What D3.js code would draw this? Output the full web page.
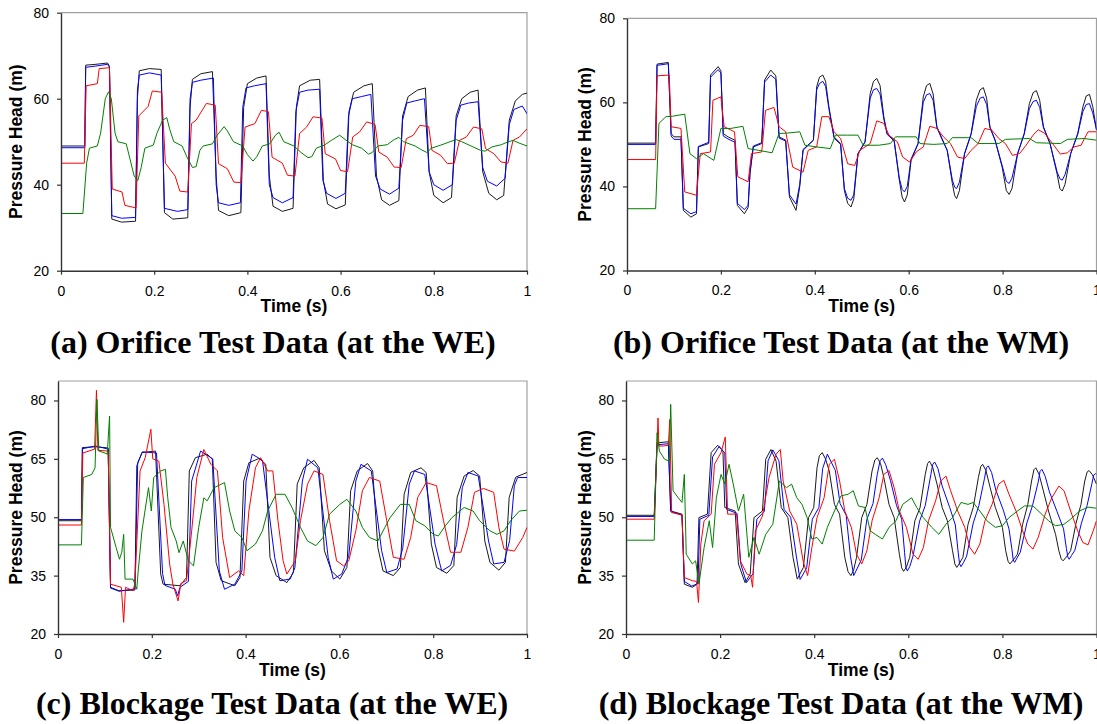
<!DOCTYPE html>
<html>
<head>
<meta charset="utf-8">
<script src="https://cdn.jsdelivr.net/npm/d3@7"></script>
<style>
  body { margin: 0; background: #fff; }
  svg { display: block; }
  .tick text { font-family: "Liberation Sans", Arial, sans-serif; font-size: 14px; fill: #000; }
  .axis-title { font-family: "Liberation Sans", Arial, sans-serif; font-size: 17.5px; font-weight: bold; fill: #000; }
  .panel-title { font-family: "Liberation Serif", "Times New Roman", serif; font-size: 32px; font-weight: bold; fill: #000; }
</style>
</head>
<body>
<svg id="fig" width="1097" height="724"></svg>
<script>
// tick labels
const timeTicks = [0, 0.2, 0.4, 0.6, 0.8, 1];
const headTicksOrifice = [20, 40, 60, 80];
const headTicksBlockage = [20, 35, 50, 65, 80];

// (a) orifice, at the WE  -- [time (s), head (m)]
const aBlack = [[0,49],[0.051,49],[0.053,67.8],[0.075,68],[0.1,68.3],[0.104,67.5],[0.109,32],[0.13,31.3],[0.16,31.5],[0.164,60],[0.168,66.5],[0.19,67],[0.215,66.8],[0.222,33.5],[0.24,32],[0.272,32.3],[0.277,58],[0.282,64.5],[0.3,65.8],[0.325,66.3],[0.333,42],[0.338,34],[0.36,32.8],[0.386,33.5],[0.392,58],[0.4,63.5],[0.42,64.8],[0.44,65.3],[0.447,42],[0.455,35],[0.475,33.8],[0.498,34.5],[0.505,58],[0.512,63],[0.535,64.3],[0.555,64.5],[0.563,41],[0.572,35.5],[0.59,34.4],[0.61,35.3],[0.618,57],[0.628,61.5],[0.65,63],[0.668,63.5],[0.677,42],[0.688,36.5],[0.705,35.2],[0.725,36.3],[0.733,56],[0.745,60.5],[0.765,62],[0.782,62.5],[0.79,43],[0.8,37.5],[0.82,35.8],[0.838,37],[0.848,56],[0.86,60],[0.878,61.5],[0.895,62],[0.905,43],[0.918,38],[0.935,36.5],[0.95,37.5],[0.962,55],[0.975,59.5],[0.99,61],[1,61.3]];
const aBlue = [[0,48.6],[0.051,48.6],[0.053,67.3],[0.075,67.6],[0.1,68],[0.104,67.3],[0.109,32.8],[0.13,32.2],[0.16,32.4],[0.164,62],[0.168,65.5],[0.19,66],[0.215,65.5],[0.222,34.5],[0.25,33.8],[0.272,34.2],[0.277,60],[0.282,63.8],[0.3,64.3],[0.327,64.8],[0.333,40],[0.338,35.8],[0.36,35.2],[0.385,35.8],[0.39,58],[0.397,62.5],[0.415,63],[0.44,63.5],[0.447,40],[0.455,37],[0.475,35.8],[0.498,37],[0.504,57],[0.512,61.5],[0.53,62],[0.555,62.2],[0.562,41],[0.57,38],[0.59,36.8],[0.61,38],[0.617,56],[0.625,60],[0.645,60.5],[0.665,61],[0.675,42],[0.685,39],[0.705,37.8],[0.725,39.2],[0.733,55],[0.742,59],[0.76,59.5],[0.78,60],[0.79,43],[0.8,40],[0.82,38.7],[0.84,40],[0.848,55],[0.858,58.5],[0.875,59],[0.895,59.3],[0.905,44],[0.915,40.8],[0.935,39.7],[0.953,41.5],[0.962,54],[0.972,57.5],[0.99,58.3],[1,56.5]];
const aRed = [[0,45],[0.05,45],[0.054,63],[0.078,63.5],[0.082,67],[0.104,67.2],[0.11,39],[0.131,38.3],[0.137,35.2],[0.161,34.6],[0.167,56],[0.187,58.2],[0.196,61.8],[0.216,61.5],[0.224,45],[0.245,42],[0.255,38.5],[0.272,38.3],[0.28,54.2],[0.29,55],[0.312,58.9],[0.331,58.5],[0.338,44.9],[0.357,43.7],[0.371,40.6],[0.386,40.5],[0.395,53.4],[0.416,54.2],[0.43,57.3],[0.445,57],[0.453,46.4],[0.475,45],[0.486,42.2],[0.502,42],[0.512,51.9],[0.527,53.4],[0.541,55.8],[0.56,55.5],[0.567,47.2],[0.589,46],[0.6,43.3],[0.615,43],[0.626,51.1],[0.641,52.3],[0.656,54.6],[0.674,54],[0.682,47.6],[0.7,46.4],[0.715,44.1],[0.73,44],[0.741,50.7],[0.756,51.5],[0.77,53.8],[0.789,53.5],[0.796,48],[0.815,46.8],[0.829,44.9],[0.844,45],[0.855,50.3],[0.87,51.1],[0.885,53.4],[0.903,53],[0.911,48.4],[0.929,47.2],[0.944,45.3],[0.959,45],[0.97,50.3],[0.984,51.1],[1,53]];
const aGreen = [[0,33.3],[0.047,33.3],[0.055,45],[0.061,48.5],[0.078,49],[0.085,52],[0.095,60],[0.102,61.6],[0.108,60],[0.116,52],[0.122,50],[0.14,49.5],[0.148,46],[0.157,42],[0.165,41],[0.172,44],[0.18,48.5],[0.198,49.2],[0.206,52],[0.218,55],[0.227,55.6],[0.233,53],[0.242,50],[0.26,49],[0.27,46.5],[0.282,44],[0.29,44.2],[0.298,48],[0.305,49],[0.325,49.5],[0.335,51.5],[0.35,53.5],[0.357,52.5],[0.37,50],[0.39,49],[0.4,47],[0.412,45.5],[0.42,46.5],[0.432,49],[0.448,49.5],[0.46,51.5],[0.468,52.2],[0.478,50],[0.5,49],[0.515,47.5],[0.53,46.3],[0.538,46.5],[0.548,48.5],[0.565,49.2],[0.58,50.3],[0.598,51.5],[0.61,50.5],[0.625,49.3],[0.645,48.5],[0.66,47.1],[0.668,47.5],[0.68,49],[0.7,49.3],[0.715,50.5],[0.725,51],[0.735,50],[0.76,49],[0.772,48.2],[0.785,47.5],[0.795,48.5],[0.815,49.2],[0.835,50],[0.848,50.5],[0.86,50],[0.88,49],[0.9,48],[0.91,47.8],[0.925,48.8],[0.945,49.3],[0.96,50],[0.97,50.3],[0.985,49.6],[1,49]];

// (b) orifice, at the WM
const bBlack = [[0,50.3],[0.061,50.3],[0.064,69.1],[0.088,69.5],[0.094,52.6],[0.1,51.8],[0.115,51.8],[0.12,34.3],[0.136,32.7],[0.148,33.5],[0.152,49.4],[0.174,50.2],[0.178,66.5],[0.194,68.5],[0.2,67.5],[0.205,52.6],[0.215,51.8],[0.23,51],[0.235,35.5],[0.25,33.5],[0.258,35],[0.262,43],[0.269,49.4],[0.287,50.2],[0.293,65.3],[0.306,67.7],[0.317,66.3],[0.324,51.8],[0.338,51],[0.346,37.5],[0.36,34.3],[0.368,40],[0.375,48.6],[0.397,51],[0.404,63.7],[0.41,66],[0.417,66.5],[0.423,65],[0.43,59],[0.441,51.8],[0.455,50.2],[0.463,39],[0.47,36],[0.477,35.1],[0.483,37],[0.492,47.8],[0.507,50.6],[0.518,62.1],[0.525,65],[0.532,65.7],[0.539,64],[0.547,56.6],[0.554,52.6],[0.569,51],[0.58,41.5],[0.586,37.5],[0.591,36.3],[0.597,38],[0.605,46.2],[0.62,50.2],[0.631,61.3],[0.638,64],[0.645,64.5],[0.652,62],[0.66,54.2],[0.671,51.4],[0.682,48.6],[0.693,40.7],[0.698,37.8],[0.702,37.1],[0.708,39],[0.719,47.8],[0.733,52.6],[0.744,60.5],[0.752,63],[0.759,63.5],[0.766,61],[0.773,54.2],[0.784,51],[0.799,44.6],[0.808,39],[0.814,38.1],[0.82,39.5],[0.832,47.8],[0.846,52.6],[0.857,59.7],[0.865,62.3],[0.872,62.8],[0.879,60.5],[0.887,54.2],[0.901,50.2],[0.916,43],[0.922,39.5],[0.927,38.9],[0.933,40.5],[0.945,47.8],[0.96,52.6],[0.971,58.9],[0.978,61.5],[0.985,61.9],[0.992,59],[1,53.4]];
const bBlue = [[0,50],[0.061,50],[0.064,68.8],[0.088,69.2],[0.094,52],[0.1,51.2],[0.115,51.2],[0.12,34.8],[0.136,33.5],[0.148,34],[0.152,49.5],[0.174,50.5],[0.178,66],[0.194,67.8],[0.2,67],[0.205,52],[0.215,51.3],[0.23,50.5],[0.235,36],[0.25,34.5],[0.258,35.5],[0.262,43.5],[0.269,49.6],[0.287,50.4],[0.293,64.8],[0.306,66.5],[0.317,65.5],[0.324,51.5],[0.338,50.8],[0.346,38],[0.36,35.8],[0.368,40.5],[0.375,48.8],[0.397,51],[0.404,63],[0.41,64.5],[0.417,65],[0.423,63.8],[0.43,58.5],[0.441,51.5],[0.455,50],[0.463,39.5],[0.47,37.2],[0.477,36.7],[0.483,38],[0.492,47.8],[0.507,50.6],[0.518,61],[0.525,63],[0.532,63.3],[0.539,62],[0.547,56],[0.554,52.4],[0.569,50.8],[0.58,42],[0.586,39.3],[0.591,38.7],[0.597,40],[0.605,46.5],[0.62,50.2],[0.631,60],[0.638,61.8],[0.645,62.1],[0.652,60.5],[0.66,54],[0.671,51.2],[0.682,48.6],[0.693,41.5],[0.698,39.8],[0.702,39.5],[0.708,41],[0.719,47.8],[0.733,52.4],[0.744,59],[0.752,61],[0.759,61.3],[0.766,59.5],[0.773,54],[0.784,51],[0.799,45],[0.808,41.2],[0.814,40.7],[0.82,42],[0.832,47.8],[0.846,52.4],[0.857,58.5],[0.865,60.2],[0.872,60.5],[0.879,58.8],[0.887,54],[0.901,50.2],[0.916,43.5],[0.922,41.8],[0.927,41.5],[0.933,42.8],[0.945,47.8],[0.96,52.4],[0.971,57.8],[0.978,59.5],[0.985,59.7],[0.992,57.5],[1,53.5]];
const bRed = [[0,46.4],[0.061,46.4],[0.064,66.3],[0.09,66.5],[0.094,54.2],[0.115,53.8],[0.123,38.7],[0.148,37.9],[0.156,47.8],[0.178,48.2],[0.183,60.5],[0.2,61.3],[0.207,54.2],[0.229,53],[0.236,42.3],[0.258,41.1],[0.265,47.8],[0.287,48.2],[0.295,58.1],[0.313,58.8],[0.324,54.2],[0.338,53],[0.353,44.6],[0.375,43.4],[0.386,48.6],[0.404,49.4],[0.415,56.6],[0.43,56.6],[0.441,53],[0.455,51.4],[0.47,45.4],[0.485,45],[0.496,48.6],[0.518,50.2],[0.532,55.6],[0.547,55],[0.558,52.2],[0.576,50.6],[0.587,47],[0.602,45.8],[0.616,48.2],[0.631,49.4],[0.645,54.3],[0.66,53.8],[0.674,51.8],[0.689,50.2],[0.704,47],[0.719,46.6],[0.733,48.6],[0.748,50.2],[0.762,53.8],[0.777,53.4],[0.792,51.4],[0.806,50.2],[0.821,47.4],[0.836,47.8],[0.85,49.8],[0.865,52.2],[0.876,53.5],[0.89,52.6],[0.909,49.8],[0.923,47.7],[0.938,48],[0.952,49.4],[0.967,49.8],[0.982,53],[1,53]];
const bGreen = [[0,34.7],[0.061,34.7],[0.068,55],[0.083,56.6],[0.097,56.7],[0.123,57.2],[0.134,47.8],[0.148,46.6],[0.163,47.8],[0.185,46.2],[0.2,53.8],[0.221,53.8],[0.247,54.3],[0.258,49],[0.28,48.6],[0.309,48],[0.324,52.6],[0.342,52.7],[0.368,53],[0.379,49.8],[0.404,49.4],[0.433,49],[0.444,52.2],[0.47,52.2],[0.492,52.2],[0.503,49.8],[0.536,49.8],[0.561,50.2],[0.572,51.8],[0.616,51.8],[0.624,50.2],[0.653,50],[0.682,50.2],[0.693,51.6],[0.733,51.6],[0.748,50.2],[0.792,50.2],[0.806,51.2],[0.857,51.4],[0.872,50.4],[0.923,50.2],[0.938,51.2],[0.974,51.4],[1,51]];

// (c) blockage, at the WE
const cBlack = [[0,49.1],[0.05,49.1],[0.052,67.9],[0.08,68.1],[0.107,67.8],[0.112,32],[0.13,31.1],[0.164,31.3],[0.168,63.2],[0.179,66.6],[0.208,67],[0.219,35.4],[0.224,32.8],[0.26,32.4],[0.274,34.5],[0.28,61.9],[0.293,65.3],[0.318,66.2],[0.329,64.9],[0.337,38.4],[0.348,33.7],[0.377,32.4],[0.388,34.5],[0.396,59.3],[0.407,64],[0.429,65.1],[0.443,63.6],[0.452,39.7],[0.465,35],[0.488,33.2],[0.502,35.8],[0.51,58.5],[0.524,62.7],[0.546,64.6],[0.557,62.7],[0.568,41.4],[0.583,36.2],[0.601,34.1],[0.616,37.1],[0.624,56.8],[0.638,61.9],[0.66,63.8],[0.671,61.9],[0.682,42.2],[0.693,36.2],[0.715,35],[0.73,37.1],[0.738,55.9],[0.752,61.5],[0.774,62.7],[0.785,61.5],[0.796,43.1],[0.807,37.1],[0.829,35.6],[0.844,37.6],[0.851,55.1],[0.866,60.6],[0.885,62],[0.899,60.6],[0.91,43.9],[0.921,38.4],[0.94,36.4],[0.954,38.4],[0.962,55.1],[0.976,60.3],[1,61.5]];
const cBlue = [[0,49.4],[0.05,49.4],[0.052,67.6],[0.08,68.3],[0.107,67.5],[0.112,31.8],[0.13,31],[0.164,31.6],[0.17,64],[0.18,66.8],[0.21,66.5],[0.223,35.5],[0.228,32.5],[0.25,31.5],[0.255,29.8],[0.26,32],[0.278,33.5],[0.285,59.3],[0.304,67],[0.33,65],[0.344,36.2],[0.355,31.5],[0.377,32.8],[0.392,36.2],[0.401,59.3],[0.414,66.2],[0.436,64.6],[0.462,39.7],[0.473,33.7],[0.495,34.1],[0.505,37],[0.521,59.3],[0.532,64.9],[0.554,62.7],[0.576,39.7],[0.587,34.1],[0.605,35.4],[0.62,40],[0.635,59.3],[0.646,63.6],[0.668,61.9],[0.69,41.4],[0.701,35.8],[0.723,36.7],[0.735,42],[0.749,58.5],[0.76,61.9],[0.782,61],[0.804,43.1],[0.818,36.2],[0.837,37.6],[0.85,43],[0.862,57.6],[0.874,61.5],[0.896,60.6],[0.918,43.9],[0.929,38],[0.951,38.4],[0.963,44],[0.973,58.1],[0.98,60.2],[1,60.2]];
const cRed = [[0,48],[0.05,48],[0.053,66.5],[0.078,67.5],[0.082,82.6],[0.085,67.2],[0.107,67],[0.112,32.8],[0.135,32],[0.14,23],[0.144,32],[0.16,31.1],[0.164,33],[0.175,61.9],[0.186,65.3],[0.198,72.6],[0.202,65],[0.215,64.4],[0.226,53.3],[0.238,38],[0.245,32.8],[0.256,28.5],[0.262,33],[0.274,33.7],[0.285,46.5],[0.296,60.2],[0.311,67.4],[0.326,63.6],[0.34,61.9],[0.351,44.8],[0.366,34.5],[0.385,36.2],[0.396,35],[0.407,51.6],[0.421,62.7],[0.432,65.3],[0.447,61.9],[0.458,61.9],[0.469,49.1],[0.48,38.8],[0.488,35.4],[0.506,38.8],[0.517,49.1],[0.532,58.5],[0.546,61.9],[0.565,61],[0.579,49.1],[0.594,38.8],[0.609,37.5],[0.62,38.8],[0.635,46.5],[0.649,56.8],[0.664,60.2],[0.686,59.3],[0.701,49.1],[0.715,39.7],[0.738,39.2],[0.752,44.8],[0.767,55.1],[0.785,58.9],[0.807,58.1],[0.822,49.1],[0.837,41],[0.859,41],[0.874,47.4],[0.888,56.4],[0.907,57.4],[0.929,56.4],[0.94,47.4],[0.951,41.8],[0.973,41.3],[0.991,44.8],[1,47.4]];
const cGreen = [[0,42.9],[0.05,42.9],[0.054,60.2],[0.072,61],[0.079,62.7],[0.083,80.3],[0.087,67],[0.098,66.6],[0.105,66.2],[0.11,76],[0.112,47.4],[0.124,42.2],[0.131,39.2],[0.136,41],[0.14,45.6],[0.143,34.1],[0.16,34.1],[0.168,31.5],[0.171,36.2],[0.179,46.5],[0.193,57.6],[0.199,51.6],[0.204,60.2],[0.219,61.9],[0.229,62.3],[0.234,55],[0.241,47.4],[0.252,43.9],[0.258,40.9],[0.267,43.9],[0.278,38.8],[0.289,37.5],[0.3,47.4],[0.311,55],[0.318,54.2],[0.333,57.6],[0.355,58.9],[0.366,51.6],[0.377,46.5],[0.392,44.8],[0.403,41.4],[0.421,43.1],[0.436,46.5],[0.447,51.6],[0.465,55.9],[0.484,55.9],[0.499,52.5],[0.517,47.4],[0.532,43.9],[0.55,42.7],[0.565,44.8],[0.579,50.8],[0.601,53.3],[0.616,54.6],[0.635,51.6],[0.649,47.4],[0.664,44.8],[0.682,43.9],[0.697,47.4],[0.708,49.9],[0.73,53.3],[0.749,53.3],[0.763,49.1],[0.782,47.8],[0.8,45.6],[0.811,45.2],[0.826,47.8],[0.84,49.9],[0.866,52.5],[0.885,51.6],[0.899,49.1],[0.921,46.5],[0.936,45.6],[0.951,46.5],[0.965,49.1],[0.984,51.6],[1,51.8]];

// (d) blockage, at the WM
const dBlack = [[0,50.5],[0.06,50.5],[0.066,69.1],[0.09,69.4],[0.095,51.6],[0.119,50.8],[0.124,32.8],[0.141,32],[0.151,32.8],[0.155,49.9],[0.173,50.8],[0.181,66.6],[0.195,68.5],[0.206,67],[0.21,52.5],[0.232,51.6],[0.239,38],[0.253,33.2],[0.264,35.4],[0.272,49.9],[0.29,51.6],[0.297,64.9],[0.308,67.4],[0.319,64.4],[0.33,52.5],[0.344,49.9],[0.355,39.7],[0.364,34.1],[0.377,37.1],[0.388,49.9],[0.399,52.5],[0.406,62.7],[0.411,65.8],[0.417,66.6],[0.424,65],[0.432,61.9],[0.443,53.3],[0.454,50.8],[0.465,39.7],[0.472,36],[0.478,35],[0.484,36.5],[0.49,39.7],[0.501,49.9],[0.512,53.3],[0.523,61.9],[0.529,64.7],[0.534,65.3],[0.541,63.8],[0.548,60.2],[0.559,53.3],[0.57,49.9],[0.581,40.5],[0.586,37],[0.59,36.1],[0.596,37.2],[0.603,39.7],[0.614,49.1],[0.625,52.5],[0.636,61],[0.641,63.8],[0.645,64.4],[0.652,62.8],[0.661,58.5],[0.672,52.5],[0.683,49.1],[0.694,41.4],[0.699,38],[0.703,37.1],[0.709,38.2],[0.716,39.7],[0.727,48.2],[0.738,52.5],[0.749,60.2],[0.754,63],[0.758,63.6],[0.765,62],[0.774,57.6],[0.785,52.5],[0.8,47.4],[0.807,41.4],[0.812,38.7],[0.816,38],[0.823,39],[0.832,40.5],[0.843,48.2],[0.854,53.3],[0.862,59.3],[0.867,62.2],[0.871,62.7],[0.878,61],[0.887,56.8],[0.898,51.6],[0.913,45.6],[0.92,41.4],[0.925,39.3],[0.929,38.8],[0.936,39.8],[0.945,41.4],[0.956,48.2],[0.967,53.3],[0.975,59.3],[0.98,61.6],[0.984,62],[0.991,61],[1,58.5]];
const dBlue = [[0,50.2],[0.06,50.2],[0.066,68.6],[0.09,68.9],[0.095,51.5],[0.119,50.5],[0.124,33.5],[0.14,32.3],[0.153,33],[0.157,49.5],[0.176,50.5],[0.184,65.5],[0.198,68.2],[0.21,66.5],[0.214,52],[0.236,51],[0.244,38],[0.256,33.2],[0.27,35.5],[0.278,49.5],[0.294,51.5],[0.302,64.5],[0.312,67.3],[0.325,64.5],[0.336,52],[0.35,50],[0.362,40],[0.37,34],[0.384,37],[0.396,49.5],[0.41,52.5],[0.418,62.5],[0.428,66.2],[0.445,62],[0.455,53.5],[0.468,50.5],[0.477,40],[0.484,35],[0.5,39],[0.512,49.5],[0.525,53.5],[0.534,61],[0.54,64.5],[0.545,65.2],[0.552,63.5],[0.562,59.5],[0.575,53],[0.586,49.5],[0.592,41],[0.595,37],[0.598,36.2],[0.603,37.3],[0.61,40],[0.624,49],[0.636,53],[0.648,61],[0.652,63.6],[0.656,64.2],[0.663,62.5],[0.672,58],[0.688,52.5],[0.7,48],[0.706,41],[0.709,38],[0.712,37.3],[0.717,38.3],[0.724,40],[0.738,48.5],[0.75,53],[0.762,60],[0.766,62.7],[0.77,63.2],[0.777,61.5],[0.786,57],[0.802,51.8],[0.814,47],[0.82,42],[0.823,39],[0.826,38.4],[0.831,39.5],[0.838,41],[0.852,48.5],[0.864,53],[0.876,59],[0.88,61.8],[0.884,62.3],[0.891,60.5],[0.9,56.5],[0.916,51.5],[0.93,47],[0.936,42],[0.939,39.8],[0.942,39.2],[0.947,40.2],[0.954,41.5],[0.968,48.5],[0.98,53],[0.99,58.5],[0.994,60.8],[0.998,61.2],[1,61]];
const dRed = [[0,49.5],[0.06,49.5],[0.066,68],[0.068,75.5],[0.07,68.3],[0.079,68.3],[0.09,68.5],[0.093,75.1],[0.097,51.2],[0.119,50.6],[0.124,34.5],[0.141,33.7],[0.15,33.5],[0.154,28.1],[0.159,43.1],[0.166,49.1],[0.181,50.8],[0.188,63.6],[0.202,66.6],[0.211,70.6],[0.216,50.8],[0.235,50.8],[0.243,38.8],[0.257,35.4],[0.265,35],[0.269,32],[0.275,46.5],[0.29,50.3],[0.304,60.2],[0.319,66.2],[0.328,67.4],[0.334,59.3],[0.348,51.6],[0.363,48.2],[0.377,38.4],[0.386,35],[0.395,42.2],[0.406,49.9],[0.421,55],[0.432,63.6],[0.443,64.9],[0.454,59.3],[0.465,51.6],[0.479,47.4],[0.49,40.5],[0.501,38],[0.512,41.4],[0.523,49.1],[0.538,55],[0.548,61],[0.559,62],[0.57,57.6],[0.581,51.6],[0.596,47.4],[0.61,40.5],[0.621,39.2],[0.632,42.2],[0.643,49.1],[0.658,54.2],[0.669,59.3],[0.68,60.6],[0.69,56.8],[0.705,51.6],[0.72,47.4],[0.731,42.2],[0.741,40.5],[0.752,43.1],[0.763,49.1],[0.778,53.3],[0.792,58.5],[0.803,59.5],[0.814,55.9],[0.829,51.6],[0.843,46.5],[0.854,43.1],[0.865,41.8],[0.876,44.8],[0.891,50.8],[0.905,55],[0.92,58],[0.931,56.8],[0.945,51.6],[0.96,46.5],[0.971,43.5],[0.982,42.9],[0.993,46.5],[1,49.1]];
const dGreen = [[0,44.1],[0.06,44.1],[0.066,71.7],[0.071,67],[0.082,64.9],[0.092,64.4],[0.095,79],[0.1,56.8],[0.111,55],[0.119,53.8],[0.124,61],[0.128,40.5],[0.141,38],[0.148,38.8],[0.155,32.8],[0.166,42.2],[0.177,49.1],[0.184,42.2],[0.192,55],[0.202,61],[0.21,58.5],[0.219,63.6],[0.228,58.5],[0.239,51.6],[0.25,55.9],[0.261,39.7],[0.272,44.8],[0.283,40.5],[0.297,45.6],[0.312,48.2],[0.326,59.3],[0.341,57.6],[0.352,58.5],[0.363,55],[0.374,53.3],[0.385,49.9],[0.395,44.4],[0.406,44.8],[0.417,43.1],[0.428,47.4],[0.443,51.6],[0.457,55.5],[0.472,55.9],[0.483,56.8],[0.494,52.9],[0.508,52.5],[0.519,46.5],[0.53,45.6],[0.545,44.4],[0.559,47.4],[0.574,49.1],[0.588,53.3],[0.607,55],[0.618,52.5],[0.632,49.9],[0.65,47.4],[0.665,45.6],[0.68,48.2],[0.694,49.9],[0.712,53.8],[0.727,53.3],[0.738,53.8],[0.752,51.6],[0.767,49.1],[0.785,47.4],[0.8,47.8],[0.814,49.9],[0.832,51.6],[0.847,52.9],[0.865,52.9],[0.88,51.2],[0.898,49.1],[0.913,47.8],[0.931,48.2],[0.945,49.5],[0.964,51.6],[0.982,52.6],[1,52.3]];

// drawing order: black, blue, red, green
const lineColors = ['#1a1a1a', '#0000ff', '#ff0000', '#008000'];

const panels = [
  { title: '(a) Orifice Test Data (at the WE)', series: [aBlack, aBlue, aRed, aGreen],
    yDomain: [20, 80], yTicks: headTicksOrifice,
    l: 61, r: 527, t: 12.7, b: 270.7, yLabX: 22, titleX: 273, titleY: 353 },
  { title: '(b) Orifice Test Data (at the WM)', series: [bBlack, bBlue, bRed, bGreen],
    yDomain: [20, 80], yTicks: headTicksOrifice,
    l: 627, r: 1096.5, t: 18.3, b: 270.5, yLabX: 591, titleX: 841, titleY: 353 },
  { title: '(c) Blockage Test Data (at the WE)', series: [cBlack, cBlue, cRed, cGreen],
    yDomain: [20, 85], yTicks: headTicksBlockage,
    l: 58, r: 527, t: 381, b: 634, yLabX: 22, titleX: 272, titleY: 714 },
  { title: '(d) Blockage Test Data (at the WM)', series: [dBlack, dBlue, dRed, dGreen],
    yDomain: [20, 85], yTicks: headTicksBlockage,
    l: 626, r: 1096.5, t: 381, b: 634, yLabX: 591, titleX: 841, titleY: 714 }
];

const svg = d3.select('#fig');
svg.append('rect').attr('width', 1097).attr('height', 724).attr('fill', '#fff');

panels.forEach((p, i) => {
  const x = d3.scaleLinear().domain([0, 1]).range([p.l, p.r]);
  const y = d3.scaleLinear().domain(p.yDomain).range([p.b, p.t]);

  // grey frame on top and right
  svg.append('path')
    .attr('d', `M${p.l},${p.t}H${p.r}V${p.b}`)
    .attr('fill', 'none')
    .attr('stroke', '#a0a0a0')
    .attr('stroke-width', 1.2);

  svg.append('clipPath').attr('id', 'clip' + i)
    .append('rect')
    .attr('x', p.l).attr('y', p.t)
    .attr('width', p.r - p.l).attr('height', p.b - p.t);

  const line = d3.line().x(d => x(d[0])).y(d => y(d[1]));
  const g = svg.append('g').attr('clip-path', `url(#clip${i})`);
  p.series.forEach((s, k) => {
    g.append('path')
      .datum(s)
      .attr('d', line)
      .attr('fill', 'none')
      .attr('stroke', lineColors[k])
      .attr('stroke-width', 1)
      .attr('stroke-linejoin', 'round');
  });

  // axes
  const xAxis = svg.append('g')
    .attr('transform', `translate(0,${p.b})`)
    .call(d3.axisBottom(x).tickValues(timeTicks).tickFormat(d => String(d))
      .tickSizeInner(4).tickSizeOuter(0).tickPadding(11));
  const yAxis = svg.append('g')
    .attr('transform', `translate(${p.l},0)`)
    .call(d3.axisLeft(y).tickValues(p.yTicks).tickFormat(d => String(d))
      .tickSizeInner(4).tickSizeOuter(0).tickPadding(8));
  [xAxis, yAxis].forEach(a => {
    a.select('.domain').attr('stroke', '#333').attr('stroke-width', 1.4);
    a.selectAll('.tick line').attr('stroke', '#333').attr('stroke-width', 1.2);
    a.attr('font-family', null).attr('font-size', null);
  });

  // axis titles
  svg.append('text')
    .attr('class', 'axis-title')
    .attr('x', (p.l + p.r) / 2)
    .attr('y', p.b + 41.5)
    .attr('text-anchor', 'middle')
    .text('Time (s)');
  svg.append('text')
    .attr('class', 'axis-title')
    .attr('transform', `translate(${p.yLabX},${(p.t + p.b) / 2}) rotate(-90)`)
    .attr('text-anchor', 'middle')
    .text('Pressure Head (m)');

  // panel caption
  svg.append('text')
    .attr('class', 'panel-title')
    .attr('x', p.titleX)
    .attr('y', p.titleY)
    .attr('text-anchor', 'middle')
    .text(p.title);
});
</script>
</body>
</html>
